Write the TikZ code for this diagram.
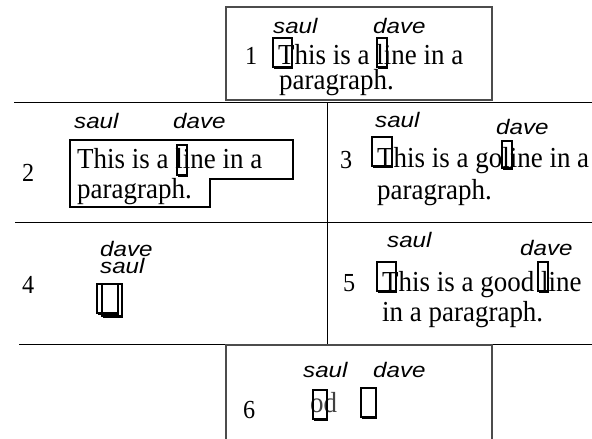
\documentclass[tikz,border=0pt]{standalone}
\usepackage{fontspec}
\setmainfont{Liberation Serif}
\newfontfamily\bodyfont[FakeStretch=0.93]{Liberation Serif}
\newfontfamily\whofont[FakeStretch=1.15]{Liberation Sans}
\newcommand{\caret}[4]{%
  \draw[cur] (#1,#2) rectangle (#3,#4);
  \draw[cur] (#1+1,#4+1.5) -- (#3+1,#4+1.5);}
\begin{document}
\begin{tikzpicture}[x=1pt,y=-1pt,
  txt/.style={anchor=base west,inner sep=0pt,font=\bodyfont\fontsize{29}{29}\selectfont},
  num/.style={anchor=base west,inner sep=0pt,font=\bodyfont\fontsize{26}{26}\selectfont},
  who/.style={anchor=base west,inner sep=0pt,font=\whofont\itshape\fontsize{21}{21}\selectfont},
  cur/.style={draw,line width=1.6pt},
  frame/.style={draw=black!70,line width=1.3pt},
  rule/.style={draw,line width=0.9pt}]
  \useasboundingbox (0,0) rectangle (592,439);
  % separators
  \draw[rule] (14,102) -- (592,102);
  \draw[rule] (15,222) -- (592,222);
  \draw[rule] (19,344) -- (592,344);
  \draw[rule] (327,102) -- (327,344);
  \draw[frame] (226,7) rectangle (492,100);
  \draw[frame] (226,439) -- (226,345) -- (492,345) -- (492,439);
  % panel 1
  \node[num] (n1) at (245,64) {1};
  \node[who] (s1) at (273,33) {saul};
  \node[who] (d1) at (373,33) {dave};
  \node[txt] (a1) at (278,64) {This is a line in a};
  \node[txt] (b1) at (279,89) {paragraph.};
  \caret{273}{38}{292}{67}
  \caret{377}{38}{387}{67}
  % panel 2
  \node[num] (n2) at (22,181) {2};
  \node[who] (s2) at (74,128) {saul};
  \node[who] (d2) at (173,128) {dave};
  \node[txt] (a2) at (77,168) {This is a line in a};
  \node[txt] (b2) at (77,198) {paragraph.};
  \draw[draw,line width=2.5pt] (70,140) -- (293,140) -- (293,179) -- (210,179)
    -- (210,207) -- (70,207) -- cycle;
  \caret{177}{145}{187}{175}
  % panel 3
  \node[num] (n3) at (340,168) {3};
  \node[who] (s3) at (375,127) {saul};
  \node[who] (d3) at (496,134) {dave};
  \node[txt] (a3) at (377,167) {This is a goline in a};
  \node[txt] (b3) at (377,199) {paragraph.};
  \caret{372}{137}{392}{166}
  \caret{502}{141}{512}{168}
  % panel 4
  \node[num] (n4) at (22,293) {4};
  \node[who] (d4) at (100,256) {dave};
  \node[who] (s4) at (100,273) {saul};
  \caret{97}{284}{118}{313}
  \caret{102}{284}{122}{316}
  % panel 5
  \node[num] (n5) at (343,291) {5};
  \node[who] (s5) at (387,247) {saul};
  \node[who] (d5) at (520,255) {dave};
  \node[txt] (a5) at (382,291) {This is a good line};
  \node[txt] (b5) at (382,321) {in a paragraph.};
  \caret{377}{262}{396}{291}
  \caret{538}{262}{548}{291}
  % panel 6
  \node[num] (n6) at (243,418) {6};
  \node[who] (s6) at (303,377) {saul};
  \node[who] (d6) at (373,377) {dave};
  \node[txt,text=black!75] (a6) at (310,412) {od};
  \caret{313}{390}{327}{419}
  \caret{361}{388}{376}{417}
\end{tikzpicture}
\end{document}
